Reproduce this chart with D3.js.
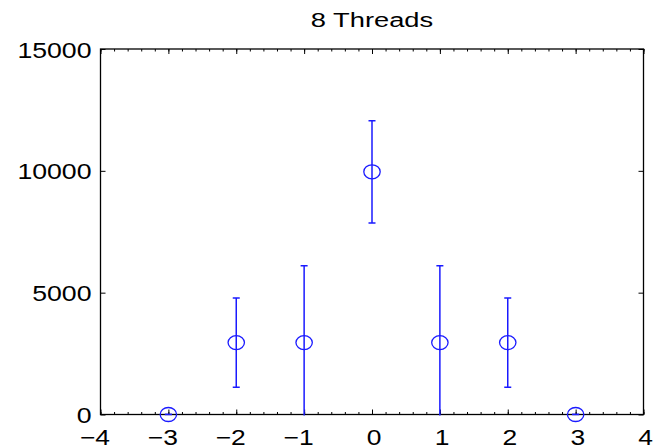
<!DOCTYPE html>
<html>
<head>
<meta charset="utf-8">
<script src="https://cdn.jsdelivr.net/npm/d3@7"></script>
<style>
  body { margin: 0; background: #fff; }
  text { font-family: "Liberation Sans", Arial, sans-serif; fill: #000; }
</style>
</head>
<body>
<div id="chart"></div>
<script>
// values
const xs = [-3, -2, -1, 0, 1, 2, 3];
const means = [0, 2950, 2950, 9960, 2950, 2950, 0];
const errs = [0, 1830, 3150, 2100, 3150, 1830, 0];
const xTicks = [-4, -3, -2, -1, 0, 1, 2, 3, 4];
const yTicks = [0, 5000, 10000, 15000];
const title = "8 Threads";

const W = 654, H = 447;
const pLeft = 100.5, pRight = 643.5, pTop = 49, pBottom = 414.5;

const svg = d3.select("#chart").append("svg")
  .attr("width", W)
  .attr("height", H);

const x = d3.scaleLinear().domain([-4, 4]).range([pLeft, pRight]);
const y = d3.scaleLinear().domain([0, 15000]).range([pBottom, pTop]);

const minor = d3.range(-40, 41, 2).map(v => v / 10);

// minor ticks bottom / top
svg.append("g")
  .attr("transform", `translate(0,${pBottom})`)
  .call(d3.axisBottom(x).tickValues(minor).tickSize(-2.5).tickFormat(""))
  .call(g => g.select(".domain").remove());
svg.append("g")
  .attr("transform", `translate(0,${pTop})`)
  .call(d3.axisTop(x).tickValues(minor).tickSize(-2.5).tickFormat(""))
  .call(g => g.select(".domain").remove());

// major ticks bottom with labels
const sx = 1.2;
svg.append("g")
  .attr("transform", `translate(0,${pBottom})`)
  .call(d3.axisBottom(x).tickValues(xTicks).tickSize(-5).tickFormat(d3.format("d")))
  .call(g => g.select(".domain").remove())
  .call(g => g.selectAll("text")
    .attr("font-size", 22)
    .attr("font-family", "Liberation Sans, Arial, sans-serif")
    .attr("text-anchor", "end")
    .attr("dy", null)
    .attr("y", 30.5)
    .attr("x", 9 / sx)
    .attr("transform", `scale(${sx},1)`));

svg.append("g")
  .attr("transform", `translate(0,${pTop})`)
  .call(d3.axisTop(x).tickValues(xTicks).tickSize(-5).tickFormat(""))
  .call(g => g.select(".domain").remove());

// y axes
const sy = 1.19;
svg.append("g")
  .attr("transform", `translate(${pLeft},0)`)
  .call(d3.axisLeft(y).tickValues(yTicks).tickSize(-5).tickFormat(d3.format("d")))
  .call(g => g.select(".domain").remove())
  .call(g => g.selectAll("text")
    .attr("font-size", 22.4)
    .attr("font-family", "Liberation Sans, Arial, sans-serif")
    .attr("dy", "0.36em")
    .attr("x", -9 / sy)
    .attr("transform", `scale(${sy},1)`));

svg.append("g")
  .attr("transform", `translate(${pRight},0)`)
  .call(d3.axisRight(y).tickValues(yTicks).tickSize(-5).tickFormat(""))
  .call(g => g.select(".domain").remove());

// frame
svg.append("rect")
  .attr("x", pLeft).attr("y", pTop)
  .attr("width", pRight - pLeft).attr("height", pBottom - pTop)
  .attr("fill", "none").attr("stroke", "#000").attr("stroke-width", 1.3);

// title
svg.append("text")
  .attr("transform", `translate(${(pLeft + pRight) / 2},27) scale(1.3,1)`)
  .attr("text-anchor", "middle")
  .attr("font-size", 21)
  .text(title);

// error bars
svg.append("clipPath").attr("id", "clip")
  .append("rect")
  .attr("x", pLeft).attr("y", pTop)
  .attr("width", pRight - pLeft).attr("height", pBottom - pTop + 1);

const data = xs.map((v, i) => ({ x: v, m: means[i], e: errs[i] }));
const plot = svg.append("g").attr("clip-path", "url(#clip)");
const bars = plot.selectAll("g.bar")
  .data(data)
  .enter()
  .append("g")
  .attr("class", "bar")
  .attr("stroke", "#1a1aff")
  .attr("stroke-width", 1.5)
  .attr("fill", "none");

bars.append("line")
  .attr("x1", d => x(d.x)).attr("x2", d => x(d.x))
  .attr("y1", d => y(d.m - d.e)).attr("y2", d => y(d.m + d.e));
bars.append("line")
  .attr("x1", d => x(d.x) - 3.5).attr("x2", d => x(d.x) + 3.5)
  .attr("y1", d => y(d.m + d.e)).attr("y2", d => y(d.m + d.e));
bars.append("line")
  .attr("x1", d => x(d.x) - 3.5).attr("x2", d => x(d.x) + 3.5)
  .attr("y1", d => y(d.m - d.e)).attr("y2", d => y(d.m - d.e));

svg.selectAll("ellipse")
  .data(data)
  .enter()
  .append("ellipse")
  .attr("cx", d => x(d.x))
  .attr("cy", d => y(d.m))
  .attr("rx", 8.2)
  .attr("ry", 7)
  .attr("fill", "none")
  .attr("stroke", "#1a1aff")
  .attr("stroke-width", 1.3);
</script>
</body>
</html>
